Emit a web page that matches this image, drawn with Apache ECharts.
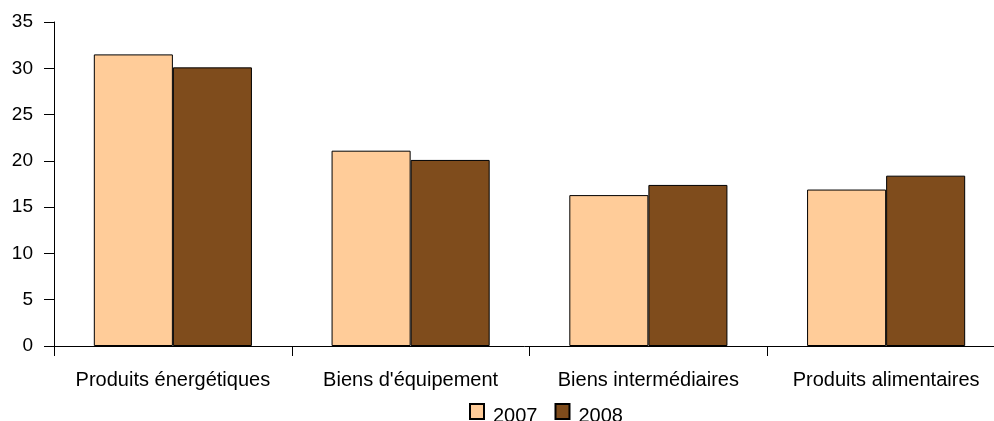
<!DOCTYPE html>
<html>
<head>
<meta charset="utf-8">
<script src="https://cdn.jsdelivr.net/npm/echarts@6/dist/echarts.min.js"></script>
<style>
  html, body { margin: 0; padding: 0; background: #fff; }
  #chart { width: 994px; height: 421px; }
</style>
</head>
<body>
<div id="chart"></div>
<script>
// Categories and yearly values
const categories = ['Produits énergétiques', "Biens d'équipement", 'Biens intermédiaires', 'Produits alimentaires'];
const values2007 = [31.5, 21.1, 16.3, 16.9];
const values2008 = [30.1, 20.1, 17.4, 18.4];
const seriesNames = ['2007', '2008'];

const FONT = '"Liberation Sans", Arial, sans-serif';
const chart = echarts.init(document.getElementById('chart'));

chart.setOption({
  animation: false,
  textStyle: { fontFamily: FONT },
  // plot area runs a little past the right edge of the canvas
  grid: { left: 54, width: 951, top: 22, bottom: 75, containLabel: false, outerBoundsMode: 'none' },
  legend: {
    data: seriesNames,
    top: 398,
    left: 464,
    itemWidth: 14,
    itemHeight: 15,
    itemGap: 17,
    icon: 'rect',
    formatter: '{t|{name}}',
    textStyle: {
      fontSize: 20, color: '#000', fontFamily: FONT,
      rich: { t: { fontSize: 20, color: '#000', fontFamily: FONT, padding: [10, 0, 0, 4] } }
    }
  },
  xAxis: {
    type: 'category',
    data: categories,
    axisLine: { lineStyle: { color: '#000', width: 1 } },
    axisTick: { show: true, length: 10, interval: 0, lineStyle: { color: '#000' } },
    axisLabel: { color: '#000', fontSize: 20, margin: 24, interval: 0, fontFamily: FONT }
  },
  yAxis: {
    type: 'value',
    min: 0,
    max: 35,
    interval: 5,
    axisLine: { show: true, lineStyle: { color: '#000', width: 1 } },
    axisTick: { show: true, length: 10, lineStyle: { color: '#000' } },
    axisLabel: { color: '#000', fontSize: 19, margin: 21, fontFamily: FONT },
    splitLine: { show: false }
  },
  series: [
    {
      name: seriesNames[0],
      type: 'bar',
      data: values2007,
      barGap: '0%',
      barCategoryGap: '33.5%',
      itemStyle: { color: '#FFCC99', borderColor: '#000', borderWidth: 1 }
    },
    {
      name: seriesNames[1],
      type: 'bar',
      data: values2008,
      barGap: '0%',
      barCategoryGap: '33.5%',
      itemStyle: { color: '#7F4C1C', borderColor: '#000', borderWidth: 1 }
    }
  ]
});
</script>
</body>
</html>
